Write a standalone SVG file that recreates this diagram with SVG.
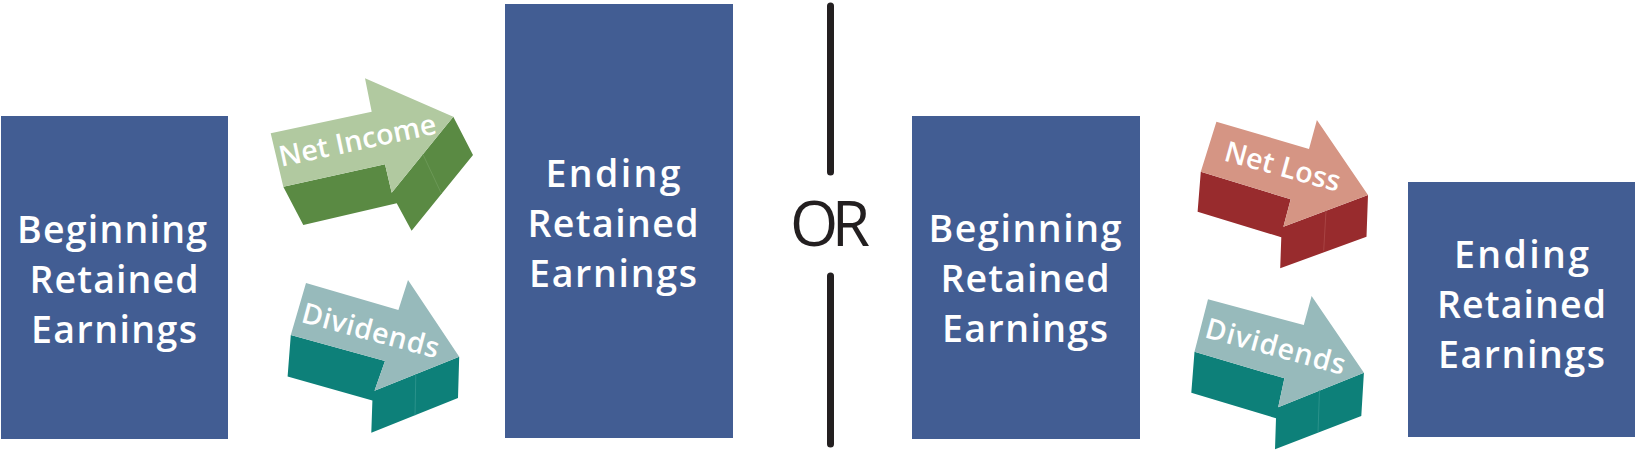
<svg xmlns="http://www.w3.org/2000/svg" width="1640" height="450" viewBox="0 0 1640 450">
<style>
.box{fill:#425d93}
.bt{font-family:"Open Sans","Noto Sans",sans-serif;font-weight:600;font-size:37.5px;fill:#ffffff;text-anchor:middle}
.at{font-family:"Open Sans","Noto Sans",sans-serif;font-weight:600;font-size:28.5px;fill:#ffffff;text-anchor:middle}
.or{font-family:"Open Sans","Noto Sans",sans-serif;font-weight:400;font-size:62px;fill:#231f20;text-anchor:middle}
.sep{stroke:#231f20;stroke-width:7;stroke-linecap:round;fill:none}
.crease{stroke-width:1;fill:none}
.gTop{fill:#b1c9a0}.gDark{fill:#5a8a43}
.tTop{fill:#97babb}.tDark{fill:#0d8079}
.rTop{fill:#d59584}.rDark{fill:#982b2d}
</style>
<rect width="1640" height="450" fill="#ffffff"/>

<g id="begin-left">
<rect class="box" x="1" y="116" width="227" height="323"/>
<text class="bt" x="112" y="243" textLength="190" lengthAdjust="spacing">Beginning</text>
<text class="bt" x="114" y="293" textLength="169" lengthAdjust="spacing">Retained</text>
<text class="bt" x="114" y="343" textLength="166" lengthAdjust="spacing">Earnings</text>
</g>

<g id="net-income">
<polygon class="gDark" points="283.3,186.7 385,164.3 391.7,192.7 453.3,116.7 473,155 411.6,230.7 396.7,203.3 303.3,225"/>
<polygon class="gTop" points="270.7,133.3 371.7,111.7 365,78.3 453.3,116.7 391.7,192.7 385,164.3 283.3,186.7"/>
<line class="crease" x1="423" y1="154.5" x2="441.5" y2="193.8" stroke="#6b9856"/>
<text class="at" transform="translate(359.5,150) rotate(-12)" x="0" y="0" textLength="160" lengthAdjust="spacing">Net Income</text>
</g>

<g id="dividends-left">
<polygon class="tDark" points="290.8,335 385,361 374.5,390.7 459.2,356.7 458,398 371.3,432.7 372.4,400.5 287.6,376.5"/>
<polygon class="tTop" points="306,283 398.4,310 408,280 459.2,356.7 374.5,390.7 385,361 290.8,335"/>
<line class="crease" x1="415.8" y1="374.3" x2="415" y2="415.2" stroke="#2a928b"/>
<text class="at" transform="translate(368,340) rotate(15)" x="0" y="0" textLength="141" lengthAdjust="spacing">Dividends</text>
</g>

<g id="end-left">
<rect class="box" x="505" y="4" width="228" height="434"/>
<text class="bt" x="613" y="187" textLength="135" lengthAdjust="spacing">Ending</text>
<text class="bt" x="613" y="237" textLength="171" lengthAdjust="spacing">Retained</text>
<text class="bt" x="613" y="287" textLength="168" lengthAdjust="spacing">Earnings</text>
</g>

<g id="or-divider">
<line class="sep" x1="830.5" y1="6" x2="830.5" y2="172"/>
<line class="sep" x1="830.5" y1="276" x2="830.5" y2="444"/>
<text class="or" x="830" y="246" textLength="80" lengthAdjust="spacing">OR</text>
</g>

<g id="begin-right">
<rect class="box" x="912" y="116" width="228" height="323"/>
<text class="bt" x="1025" y="242" textLength="193" lengthAdjust="spacing">Beginning</text>
<text class="bt" x="1025" y="292" textLength="169" lengthAdjust="spacing">Retained</text>
<text class="bt" x="1025" y="342" textLength="166" lengthAdjust="spacing">Earnings</text>
</g>

<g id="net-loss">
<polygon class="rDark" points="1200.8,171.7 1290.7,199.3 1283.4,226.7 1368,195 1366.5,236.7 1280.2,268.3 1281.3,237.3 1197.6,211.7"/>
<polygon class="rTop" points="1216.4,121.7 1309,149 1316.9,120 1368,195 1283.4,226.7 1290.7,199.3 1200.8,171.7"/>
<line class="crease" x1="1326" y1="210.7" x2="1323.7" y2="250.7" stroke="#a84343"/>
<text class="at" transform="translate(1280,176) rotate(15.4)" x="0" y="0" textLength="119" lengthAdjust="spacing">Net Loss</text>
</g>

<g id="dividends-right">
<polygon class="tDark" points="1194.5,351.7 1284.4,378.3 1278.2,407.3 1363.9,372.7 1361.3,416 1275,449.3 1276,418.3 1191.3,392.7"/>
<polygon class="tTop" points="1208,299.3 1303.8,325 1311.6,296 1363.9,372.7 1278.2,407.3 1284.4,378.3 1194.5,351.7"/>
<line class="crease" x1="1319.5" y1="390.5" x2="1318" y2="432" stroke="#2a928b"/>
<text class="at" transform="translate(1273,356) rotate(15.3)" x="0" y="0" textLength="144" lengthAdjust="spacing">Dividends</text>
</g>

<g id="end-right">
<rect class="box" x="1408" y="182" width="227" height="255"/>
<text class="bt" x="1521.5" y="268" textLength="135" lengthAdjust="spacing">Ending</text>
<text class="bt" x="1521.5" y="318" textLength="169" lengthAdjust="spacing">Retained</text>
<text class="bt" x="1521.5" y="368" textLength="167" lengthAdjust="spacing">Earnings</text>
</g>
</svg>
